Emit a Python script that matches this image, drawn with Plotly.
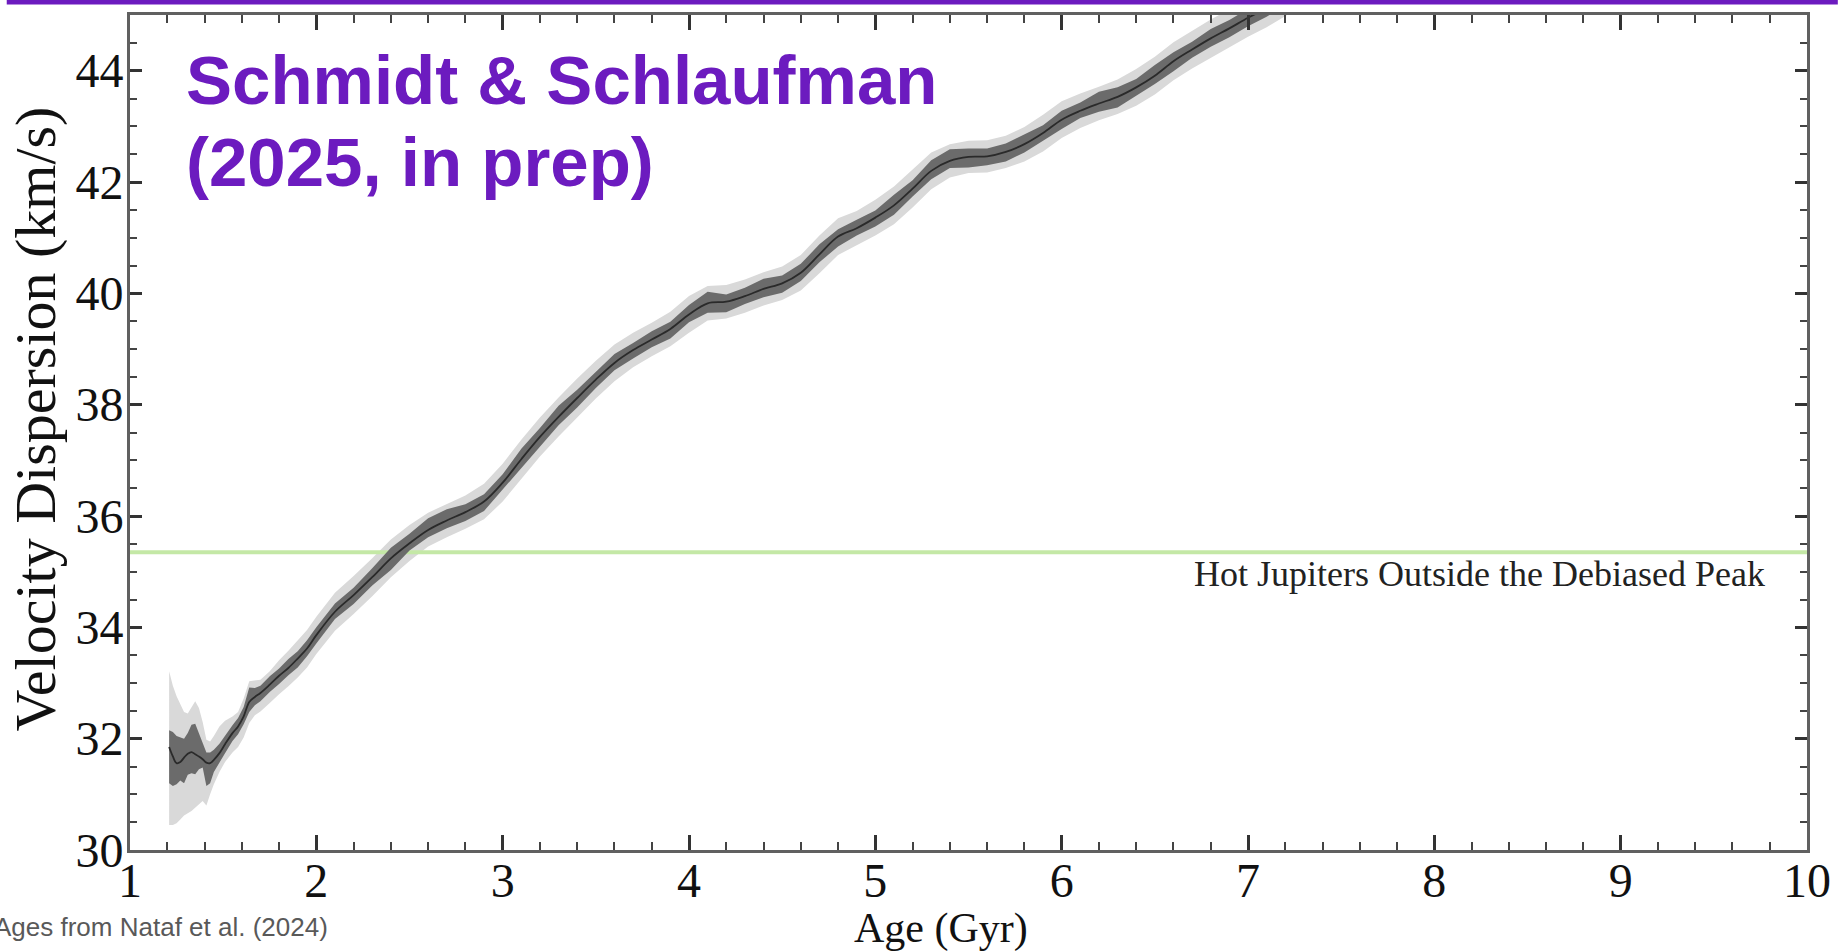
import plotly.graph_objects as go

# ---------------- data ----------------
age = [1.21, 1.23, 1.25, 1.27, 1.29, 1.31, 1.33, 1.35, 1.37, 1.39, 1.41, 1.43, 1.45,
       1.48, 1.51, 1.55, 1.58, 1.61, 1.64, 1.67, 1.70, 1.75, 1.80, 1.85, 1.90, 1.95,
       2.00, 2.1, 2.2, 2.3, 2.4, 2.5, 2.6, 2.7, 2.8, 2.9, 3.0, 3.1, 3.2, 3.3, 3.4,
       3.5, 3.6, 3.7, 3.8, 3.9, 4.0, 4.1, 4.2, 4.3, 4.4, 4.5, 4.6, 4.7, 4.8, 4.9,
       5.0, 5.1, 5.2, 5.3, 5.4, 5.5, 5.6, 5.7, 5.8, 5.9, 6.0, 6.1, 6.2, 6.3, 6.4,
       6.5, 6.6, 6.7, 6.8, 6.9, 7.0, 7.1, 7.2, 7.3]

sigma_v = [31.85, 31.68, 31.56, 31.58, 31.66, 31.73, 31.76, 31.72, 31.68, 31.63, 31.57,
           31.56, 31.62, 31.74, 31.90, 32.10, 32.22, 32.40, 32.66, 32.75, 32.82, 32.97,
           33.13, 33.27, 33.44, 33.62, 33.86, 34.28, 34.58, 34.90, 35.24, 35.51, 35.75,
           35.92, 36.07, 36.26, 36.60, 37.02, 37.42, 37.78, 38.12, 38.45, 38.75, 38.98,
           39.17, 39.36, 39.62, 39.82, 39.85, 39.95, 40.08, 40.18, 40.37, 40.70, 41.02,
           41.17, 41.36, 41.58, 41.88, 42.20, 42.38, 42.45, 42.46, 42.54, 42.68, 42.88,
           43.12, 43.28, 43.41, 43.53, 43.70, 43.91, 44.17, 44.38, 44.58, 44.76, 44.95,
           45.12, 45.32, 45.52]

# outer (light) uncertainty band: distance above / below the curve
outer_hi = [1.36, 1.27, 1.20, 1.04, 0.82, 0.72, 0.79, 0.95, 0.87, 0.67, 0.41, 0.39, 0.43,
            0.48, 0.42, 0.30, 0.26, 0.32, 0.37, 0.30, 0.24, 0.24, 0.28, 0.31, 0.32, 0.33,
            0.33, 0.34, 0.34, 0.34, 0.34, 0.33, 0.31, 0.30, 0.30, 0.32, 0.34, 0.35, 0.35,
            0.35, 0.35, 0.34, 0.33, 0.31, 0.30, 0.31, 0.33, 0.31, 0.30, 0.30, 0.30, 0.30,
            0.32, 0.34, 0.33, 0.31, 0.32, 0.34, 0.34, 0.33, 0.30, 0.29, 0.29, 0.29, 0.31,
            0.33, 0.33, 0.31, 0.30, 0.31, 0.33, 0.34, 0.34, 0.34, 0.34, 0.34, 0.34, 0.34,
            0.34, 0.34]
outer_lo = [1.40, 1.23, 1.08, 1.03, 1.04, 1.07, 1.06, 0.96, 0.86, 0.75, 0.77, 0.56, 0.44,
            0.34, 0.32, 0.35, 0.37, 0.38, 0.38, 0.33, 0.33, 0.33, 0.33, 0.33, 0.34, 0.34,
            0.34, 0.34, 0.34, 0.34, 0.34, 0.32, 0.30, 0.30, 0.30, 0.32, 0.34, 0.35, 0.35,
            0.35, 0.35, 0.34, 0.33, 0.31, 0.30, 0.31, 0.33, 0.31, 0.30, 0.30, 0.30, 0.30,
            0.32, 0.34, 0.33, 0.31, 0.32, 0.34, 0.34, 0.33, 0.30, 0.29, 0.29, 0.29, 0.31,
            0.33, 0.33, 0.31, 0.30, 0.31, 0.33, 0.34, 0.34, 0.34, 0.34, 0.34, 0.34, 0.34,
            0.34, 0.34]

# inner (dark) band: distance above / below the curve
inner_hi = [0.30, 0.44, 0.49, 0.44, 0.34, 0.37, 0.49, 0.55, 0.42, 0.32, 0.18, 0.19, 0.18,
            0.17, 0.16, 0.14, 0.15, 0.17, 0.26, 0.16, 0.13, 0.15, 0.13, 0.16, 0.13, 0.15,
            0.14, 0.15, 0.13, 0.16, 0.19, 0.17, 0.21, 0.20, 0.14, 0.13, 0.15, 0.19, 0.16,
            0.20, 0.15, 0.14, 0.16, 0.13, 0.15, 0.13, 0.17, 0.21, 0.13, 0.15, 0.18, 0.14,
            0.16, 0.18, 0.13, 0.15, 0.13, 0.19, 0.15, 0.19, 0.21, 0.15, 0.14, 0.15, 0.18,
            0.14, 0.16, 0.15, 0.21, 0.17, 0.15, 0.19, 0.16, 0.14, 0.17, 0.15, 0.16, 0.15,
            0.15, 0.15]
inner_lo = [0.65, 0.53, 0.38, 0.33, 0.46, 0.38, 0.38, 0.36, 0.23, 0.15, 0.42, 0.36, 0.22,
            0.17, 0.16, 0.14, 0.14, 0.14, 0.18, 0.15, 0.15, 0.13, 0.15, 0.13, 0.16, 0.14,
            0.15, 0.13, 0.16, 0.15, 0.21, 0.13, 0.13, 0.14, 0.16, 0.17, 0.14, 0.15, 0.18,
            0.15, 0.17, 0.15, 0.13, 0.15, 0.14, 0.17, 0.14, 0.17, 0.19, 0.14, 0.15, 0.17,
            0.15, 0.14, 0.18, 0.13, 0.16, 0.17, 0.14, 0.15, 0.13, 0.19, 0.16, 0.17, 0.15,
            0.14, 0.17, 0.13, 0.15, 0.19, 0.15, 0.15, 0.18, 0.15, 0.15, 0.16, 0.15, 0.15,
            0.15, 0.15]

hot_jupiter_level = 35.35
x_ticks = [1, 2, 3, 4, 5, 6, 7, 8, 9, 10]
y_ticks = [30, 32, 34, 36, 38, 40, 42, 44]

# ---------------- layout geometry ----------------
W, H = 1843, 951
L, R, T, B = 130, 26, 13, 101
PW, PH = W - L - R, H - T - B


def px_x(px):
    return (px - L) / PW


def px_y(py):
    return (H - B - py) / PH


SERIF = "Liberation Serif"
PURPLE = "#6c1bbf"

outer_up = [c + e for c, e in zip(sigma_v, outer_hi)]
outer_dn = [c - e for c, e in zip(sigma_v, outer_lo)]
inner_up = [c + e for c, e in zip(sigma_v, inner_hi)]
inner_dn = [c - e for c, e in zip(sigma_v, inner_lo)]

fig = go.Figure()
fig.add_trace(go.Scatter(x=age + age[::-1], y=outer_up + outer_dn[::-1], fill="toself",
                         fillcolor="#d9d9d9", line=dict(width=0), mode="lines",
                         hoverinfo="skip", showlegend=False))
fig.add_trace(go.Scatter(x=[x_ticks[0], x_ticks[-1]], y=[hot_jupiter_level] * 2, mode="lines",
                         line=dict(color="#c4e8a6", width=4), showlegend=False))
fig.add_trace(go.Scatter(x=age + age[::-1], y=inner_up + inner_dn[::-1], fill="toself",
                         fillcolor="#6b6b6b", line=dict(width=0), mode="lines",
                         hoverinfo="skip", showlegend=False))
fig.add_trace(go.Scatter(x=age, y=sigma_v, mode="lines", line=dict(color="#2a2a2a", width=1.8,
                         shape="spline"), showlegend=False))

axis_common = dict(showgrid=False, zeroline=False, showline=True, linecolor="#606060",
                   linewidth=3, mirror="allticks", ticks="inside", tickcolor="#333333",
                   tickwidth=2.5, tickfont=dict(family=SERIF, size=48, color="#111111"))

fig.update_xaxes(range=[1, 10], tickvals=x_ticks, ticktext=[str(v) for v in x_ticks],
                 ticklen=15, ticklabelstandoff=-14,
                 minor=dict(dtick=0.2, tick0=1, ticks="inside", ticklen=8, tickwidth=2,
                            tickcolor="#444444"),
                 **axis_common)
fig.update_yaxes(range=[30, 45], tickvals=y_ticks, ticktext=[str(v) for v in y_ticks],
                 ticklen=12, ticklabelstandoff=-6,
                 minor=dict(dtick=0.5, tick0=30, ticks="inside", ticklen=7, tickwidth=2,
                            tickcolor="#444444"),
                 **axis_common)

annotations = [
    dict(text="Age (Gyr)", x=px_x(946), y=px_y(929), xanchor="center", yanchor="middle",
         font=dict(family=SERIF, size=42, color="#111111")),
    dict(text="Velocity Dispersion (km/s)", x=px_x(34), y=px_y(418), textangle=-90,
         xanchor="center", yanchor="middle", font=dict(family=SERIF, size=58, color="#111111")),
    dict(text="Hot Jupiters Outside the Debiased Peak", x=px_x(1777), y=px_y(573),
         xanchor="right", yanchor="middle", font=dict(family=SERIF, size=36, color="#222222")),
    dict(text="Schmidt & Schlaufman", x=px_x(184), y=px_y(79), xanchor="left",
         yanchor="middle", font=dict(family="Liberation Sans", size=69, color=PURPLE,
                                     weight="bold")),
    dict(text="(2025, in prep)", x=px_x(184), y=px_y(161), xanchor="left",
         yanchor="middle", font=dict(family="Liberation Sans", size=69, color=PURPLE,
                                     weight="bold")),
    dict(text="Ages from Nataf et al. (2024)", x=px_x(-9), y=px_y(927), xanchor="left",
         yanchor="middle", font=dict(family="Liberation Sans", size=26, color="#595959")),
]
for a in annotations:
    a.update(xref="paper", yref="paper", showarrow=False)

fig.update_layout(
    width=W, height=H, margin=dict(l=L, r=R, t=T, b=B, pad=0),
    paper_bgcolor="white", plot_bgcolor="white", showlegend=False,
    annotations=annotations,
    shapes=[dict(type="rect", xref="paper", yref="paper", x0=px_x(6), x1=px_x(W + 5),
                 y0=px_y(2.5), y1=px_y(-3), fillcolor=PURPLE, line=dict(width=0),
                 layer="above")],
)

fig.write_html("out.html", post_script="document.body.style.margin='0';")
